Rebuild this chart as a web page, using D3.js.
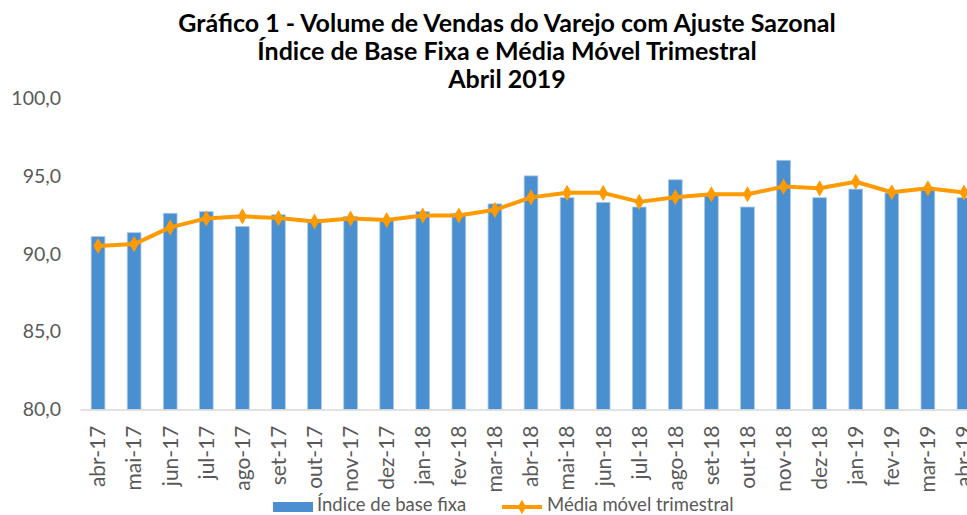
<!DOCTYPE html>
<html>
<head>
<meta charset="utf-8">
<script src="https://cdn.jsdelivr.net/npm/d3@7"></script>
<style>
  body { margin: 0; background: #fff; }
  svg { display: block; font-family: Lato, "Open Sans", sans-serif; }
</style>
</head>
<body>
<div id="chart"></div>
<script>
var months = ["abr-17","mai-17","jun-17","jul-17","ago-17","set-17","out-17","nov-17","dez-17",
    "jan-18","fev-18","mar-18","abr-18","mai-18","jun-18","jul-18","ago-18","set-18","out-18","nov-18","dez-18",
    "jan-19","fev-19","mar-19","abr-19"];
var baseFixa = [91.1, 91.35, 92.6, 92.7, 91.75, 92.5, 92.2, 92.4, 92.2,
    92.7, 92.6, 93.2, 95.0, 93.6, 93.3, 93.0, 94.75, 93.8, 93.0, 96.0, 93.6,
    94.15, 93.9, 94.1, 93.6];
var mediaMovel = [90.5, 90.62, 91.69, 92.27, 92.4, 92.29, 92.07, 92.26, 92.16,
    92.46, 92.46, 92.82, 93.62, 93.91, 93.91, 93.33, 93.63, 93.82, 93.82, 94.31, 94.2,
    94.62, 93.95, 94.2, 93.93];
var yTicks = [80, 85, 90, 95, 100];
var titleLines = ["Gráfico 1 - Volume de Vendas do Varejo com Ajuste Sazonal",
    "Índice de Base Fixa e Média Móvel Trimestral", "Abril 2019"];

var W = 967, H = 515;
var margin = {left: 80, top: 98, bottom: 105};
var plotRight = 982; // chart runs past the right edge in the original

var svg = d3.select('#chart').append('svg')
    .attr('width', W)
    .attr('height', H);

var x = d3.scaleBand()
    .domain(months)
    .range([margin.left, plotRight])
    .paddingInner(0.62)
    .paddingOuter(0.31);

var y = d3.scaleLinear()
    .domain([80, 100])
    .range([H - margin.bottom - 0.5, margin.top]);

// title
svg.append('g').selectAll('text')
    .data(titleLines)
    .enter().append('text')
    .attr('x', 507)
    .attr('y', function(d, i) { return 32 + i * 28; })
    .attr('text-anchor', 'middle')
    .style('font-size', '25px')
    .style('font-weight', 'bold')
    .style('fill', '#000')
    .text(function(d) { return d; });

// y axis labels
var yAxis = d3.axisLeft(y)
    .tickValues(yTicks)
    .tickSize(0)
    .tickPadding(19)
    .tickFormat(function(d) { return d3.format('.1f')(d).replace('.', ','); });

svg.append('g')
    .attr('transform', 'translate(' + margin.left + ',0)')
    .call(yAxis)
    .call(function(g) { g.select('.domain').remove(); })
    .selectAll('text')
    .style('font-size', '19.5px')
    .style('font-family', 'Lato, sans-serif')
    .style('fill', '#595959');

// bars
svg.append('g').selectAll('rect')
    .data(baseFixa)
    .enter().append('rect')
    .attr('x', function(d, i) { return x(months[i]); })
    .attr('y', function(d) { return y(d); })
    .attr('width', x.bandwidth())
    .attr('height', function(d) { return y(80) - y(d); })
    .attr('fill', '#4a8fd0')
    .attr('stroke', '#a9c8ea')
    .attr('stroke-width', 0.8);

// x axis
var xAxis = d3.axisBottom(x).tickSize(0).tickPadding(10);
var gx = svg.append('g')
    .attr('transform', 'translate(0,' + y(80) + ')')
    .call(xAxis);
gx.select('.domain')
    .attr('stroke', '#d9d9d9')
    .attr('stroke-width', 1.3);
gx.selectAll('text')
    .attr('transform', 'rotate(-90)')
    .attr('text-anchor', 'end')
    .attr('x', -16)
    .attr('y', 0)
    .attr('dy', '0.35em')
    .style('font-size', '21px')
    .style('font-family', 'Lato, sans-serif')
    .style('fill', '#595959');

// moving average line
var cx = function(i) { return x(months[i]) + x.bandwidth() / 2; };
var line = d3.line()
    .x(function(d, i) { return cx(i); })
    .y(function(d) { return y(d); });

svg.append('path')
    .datum(mediaMovel)
    .attr('d', line)
    .attr('fill', 'none')
    .attr('stroke', '#ff9a00')
    .attr('stroke-width', 4)
    .attr('stroke-linejoin', 'round');

svg.append('g').selectAll('path')
    .data(mediaMovel)
    .enter().append('path')
    .attr('d', d3.symbol().type(d3.symbolDiamond).size(75))
    .attr('transform', function(d, i) {
        return 'translate(' + cx(i) + ',' + y(d) + ')';
    })
    .attr('fill', '#ff9a00');

// legend
var legend = svg.append('g');
legend.append('rect')
    .attr('x', 273).attr('y', 502)
    .attr('width', 40).attr('height', 10)
    .attr('fill', '#4a8fd0');
legend.append('text')
    .attr('x', 317).attr('y', 511)
    .style('font-size', '18.5px')
    .style('fill', '#595959')
    .text('Índice de base fixa');
legend.append('line')
    .attr('x1', 502).attr('x2', 542)
    .attr('y1', 507).attr('y2', 507)
    .attr('stroke', '#ff9a00')
    .attr('stroke-width', 4);
legend.append('path')
    .attr('d', d3.symbol().type(d3.symbolDiamond).size(60))
    .attr('transform', 'translate(522,507)')
    .attr('fill', '#ff9a00');
legend.append('text')
    .attr('x', 547).attr('y', 511)
    .style('font-size', '18.5px')
    .style('fill', '#595959')
    .text('Média móvel trimestral');
</script>
</body>
</html>
